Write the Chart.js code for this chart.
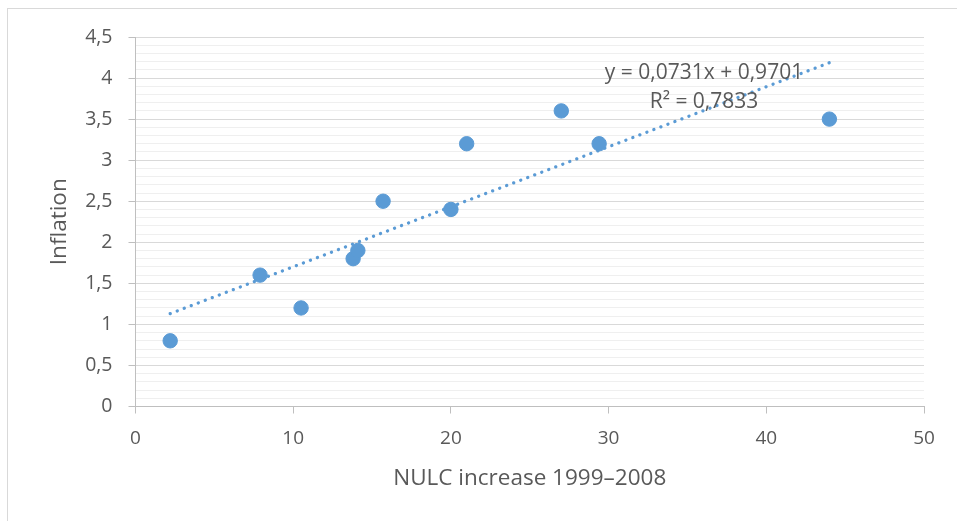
<!DOCTYPE html>
<html>
<head>
<meta charset="utf-8">
<script src="https://cdn.jsdelivr.net/npm/chart.js@4.4.1/dist/chart.umd.min.js"></script>
<style>
  html, body { margin: 0; padding: 0; background: #ffffff; }
  #wrap { position: relative; width: 957px; height: 521px; }
</style>
</head>
<body>
<div id="wrap"><canvas id="c" width="957" height="521"></canvas></div>
<script>
// ---- data ----
const nulcIncrease = [2.2, 7.9, 10.5, 13.8, 14.1, 15.7, 20, 21, 27, 29.4, 44];
const inflation    = [0.8, 1.6, 1.2, 1.8, 1.9, 2.5, 2.4, 3.2, 3.6, 3.2, 3.5];
const trendSlope = 0.0731;
const trendIntercept = 0.9701;
const trendLabelLines = ['y = 0,0731x + 0,9701', 'R\u00B2 = 0,7833'];
const xTitle = 'NULC increase 1999\u20132008';
const yTitle = 'Inflation';

const points = nulcIncrease.map((x, i) => ({ x: x, y: inflation[i] }));
const xMinData = Math.min(...nulcIncrease);
const xMaxData = Math.max(...nulcIncrease);
const trendPoints = [xMinData, xMaxData].map(x => ({ x: x, y: trendSlope * x + trendIntercept }));

const BLUE = '#5b9bd5';
const TEXT = '#595959';
const FONT = '"Open Sans", "DejaVu Sans", sans-serif';

const isMajor = v => Math.abs(v * 2 - Math.round(v * 2)) < 1e-6;

const frame = {
  id: 'frame',
  beforeDraw(chart) {
    const ctx = chart.ctx;
    ctx.save();
    ctx.fillStyle = '#ffffff';
    ctx.fillRect(0, 0, chart.width, chart.height);
    ctx.strokeStyle = '#d9d9d9';
    ctx.lineWidth = 1;
    ctx.strokeRect(7.5, 8.5, 1200, 1200);
    ctx.restore();
  }
};

const trendText = {
  id: 'trendText',
  afterDatasetsDraw(chart) {
    const ctx = chart.ctx;
    const xs = chart.scales.x, ys = chart.scales.y;
    const cx = xs.getPixelForValue(36.05);
    const cy = ys.getPixelForValue(4.06);
    ctx.save();
    ctx.fillStyle = TEXT;
    ctx.font = '21px ' + FONT;
    ctx.textAlign = 'center';
    ctx.textBaseline = 'middle';
    trendLabelLines.forEach((t, i) => ctx.fillText(t, cx, cy + i * 29));
    ctx.restore();
  }
};

new Chart(document.getElementById('c'), {
  type: 'scatter',
  data: {
    datasets: [
      {
        type: 'line',
        label: 'Trend',
        data: trendPoints,
        borderColor: BLUE,
        borderWidth: 3.3,
        borderDash: [0.1, 7.4],
        borderCapStyle: 'round',
        pointRadius: 0,
        fill: false
      },
      {
        label: 'Inflation',
        data: points,
        backgroundColor: BLUE,
        borderColor: BLUE,
        borderWidth: 1,
        pointRadius: 7.2,
        pointHoverRadius: 7.2
      }
    ]
  },
  options: {
    responsive: false,
    animation: false,
    events: [],
    layout: { padding: { left: 0, right: 33, top: 37, bottom: 0 } },
    plugins: { legend: { display: false }, tooltip: { enabled: false } },
    scales: {
      x: {
        type: 'linear',
        min: 0, max: 50,
        afterFit(s) { s.height = 114.5; },
        ticks: {
          stepSize: 10,
          color: TEXT,
          font: { family: FONT, size: 19 },
          padding: 14
        },
        grid: {
          drawOnChartArea: false,
          drawTicks: true,
          tickLength: 7,
          tickColor: '#bfbfbf',
          color: '#bfbfbf'
        },
        border: { color: '#bfbfbf', width: 1 },
        title: {
          display: true,
          text: xTitle,
          color: TEXT,
          font: { family: FONT, size: 22.5 },
          padding: { top: 0, bottom: 29 }
        }
      },
      y: {
        type: 'linear',
        min: 0, max: 4.5,
        afterFit(s) { s.width = 135.5; },
        ticks: {
          stepSize: 0.1,
          autoSkip: false,
          maxTicksLimit: 100,
          color: TEXT,
          font: { family: FONT, size: 19.5 },
          padding: 16,
          callback: v => isMajor(v) ? String(Math.round(v * 10) / 10).replace('.', ',') : ''
        },
        grid: {
          drawTicks: true,
          tickLength: 7,
          color: ctx => isMajor(ctx.tick.value) ? '#d9d9d9' : '#efefef',
          tickColor: ctx => isMajor(ctx.tick.value) ? '#bfbfbf' : 'rgba(0,0,0,0)',
          lineWidth: 1
        },
        border: { color: '#bfbfbf', width: 1 },
        title: {
          display: true,
          text: yTitle,
          color: TEXT,
          font: { family: FONT, size: 22.5 },
          padding: { top: 46, bottom: 0 }
        }
      }
    }
  },
  plugins: [frame, trendText]
});
</script>
</body>
</html>
